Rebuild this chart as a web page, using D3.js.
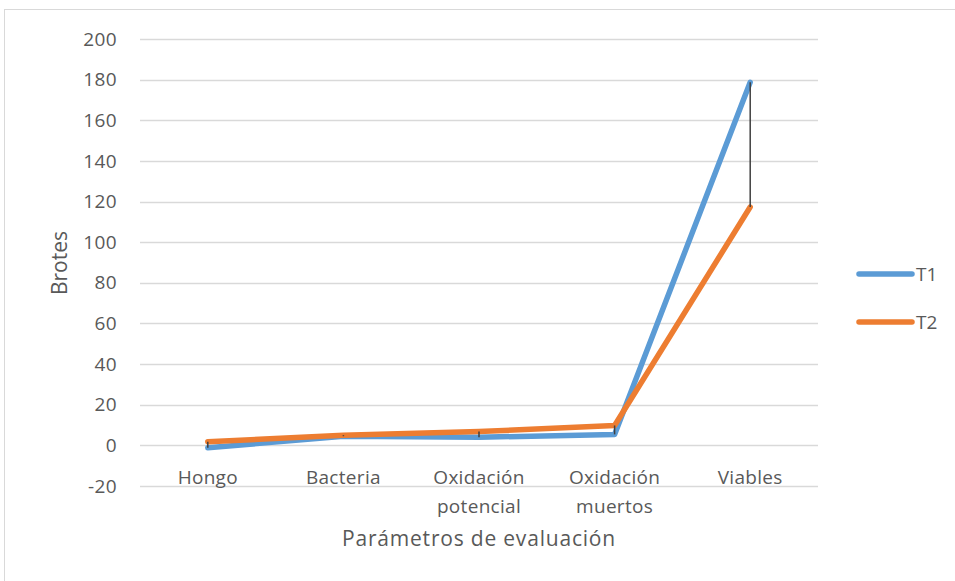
<html>
<head>
<meta charset="utf-8">
<script src="https://d3js.org/d3.v7.min.js"></script>
<style>
body {margin: 0; background: white;}
text {font-family: "Open Sans", sans-serif; fill: #595959;}
</style>
</head>
<body>
<svg width="955" height="581"></svg>
<script>
var categories = [["Hongo"], ["Bacteria"], ["Oxidación", "potencial"], ["Oxidación", "muertos"], ["Viables"]];
var t1 = [-1.2, 4.5, 4, 5.4, 178.7];
var t2 = [1.8, 5, 6.8, 9.8, 117.3];
var yTicks = [-20, 0, 20, 40, 60, 80, 100, 120, 140, 160, 180, 200];
var seriesNames = ["T1", "T2"];
var colors = ["#5B9BD5", "#ED7D31"];

var svg = d3.select("svg");

// chart frame
svg.append("rect")
  .attr("x", 4.5).attr("y", 9.5)
  .attr("width", 960).attr("height", 600)
  .attr("fill", "none").attr("stroke", "#d9d9d9");

var x = d3.scaleBand().domain(d3.range(categories.length)).range([140, 818]);
var y = d3.scaleLinear().domain([-20, 200]).range([486, 39]);
var cx = function(i) { return x(i) + x.bandwidth() / 2; };

// gridlines
svg.append("g").selectAll("line")
  .data(yTicks).enter().append("line")
  .attr("x1", 140).attr("x2", 818)
  .attr("y1", function(d) { return Math.round(y(d)) + 0.5; })
  .attr("y2", function(d) { return Math.round(y(d)) + 0.5; })
  .attr("stroke", "#d9d9d9").attr("stroke-width", 1.3);

// y tick labels
svg.append("g").selectAll("text")
  .data(yTicks).enter().append("text")
  .attr("x", 117).attr("y", function(d) { return y(d); })
  .attr("dy", "0.35em").attr("text-anchor", "end")
  .style("font-size", "19px").style("letter-spacing", "0.4px")
  .text(function(d) { return d; });

// x labels
var xl = svg.append("g").selectAll("text")
  .data(categories).enter().append("text")
  .attr("x", function(d, i) { return cx(i); })
  .attr("y", 484)
  .attr("text-anchor", "middle")
  .style("font-size", "19px").style("letter-spacing", "0.3px");
xl.selectAll("tspan")
  .data(function(d) { return d; }).enter().append("tspan")
  .attr("x", function() { return d3.select(this.parentNode).attr("x"); })
  .attr("dy", function(d, j) { return j ? 29 : 0; })
  .text(function(d) { return d; });

// axis titles
svg.append("text")
  .attr("x", 479).attr("y", 546)
  .attr("text-anchor", "middle").style("font-size", "21px").style("letter-spacing", "0.8px")
  .text("Parámetros de evaluación");
svg.append("text")
  .attr("transform", "translate(67,263) rotate(-90)")
  .attr("text-anchor", "middle").style("font-size", "21px")
  .text("Brotes");

// series lines
var line = d3.line()
  .x(function(d, i) { return cx(i); })
  .y(function(d) { return y(d); });
[t1, t2].forEach(function(s, k) {
  svg.append("path")
    .datum(s)
    .attr("d", line)
    .attr("fill", "none")
    .attr("stroke", colors[k])
    .attr("stroke-width", 5.5)
    .attr("stroke-linecap", "round")
    .attr("stroke-linejoin", "round");
});

// high-low lines
svg.append("g").selectAll("line")
  .data(categories).enter().append("line")
  .attr("x1", function(d, i) { return cx(i); })
  .attr("x2", function(d, i) { return cx(i); })
  .attr("y1", function(d, i) { return y(Math.max(t1[i], t2[i])); })
  .attr("y2", function(d, i) { return y(Math.min(t1[i], t2[i])); })
  .attr("stroke", "#404040").attr("stroke-width", 1.5);

// legend
var lg = svg.append("g").selectAll("g")
  .data(seriesNames).enter().append("g")
  .attr("transform", function(d, i) { return "translate(859," + (274 + i * 48) + ")"; });
lg.append("line")
  .attr("x1", 0).attr("x2", 53)
  .attr("stroke", function(d, i) { return colors[i]; })
  .attr("stroke-width", 5.5).attr("stroke-linecap", "round");
lg.append("text")
  .attr("x", 57).attr("dy", "0.35em")
  .style("font-size", "19px")
  .text(function(d) { return d; });
</script>
</body>
</html>
